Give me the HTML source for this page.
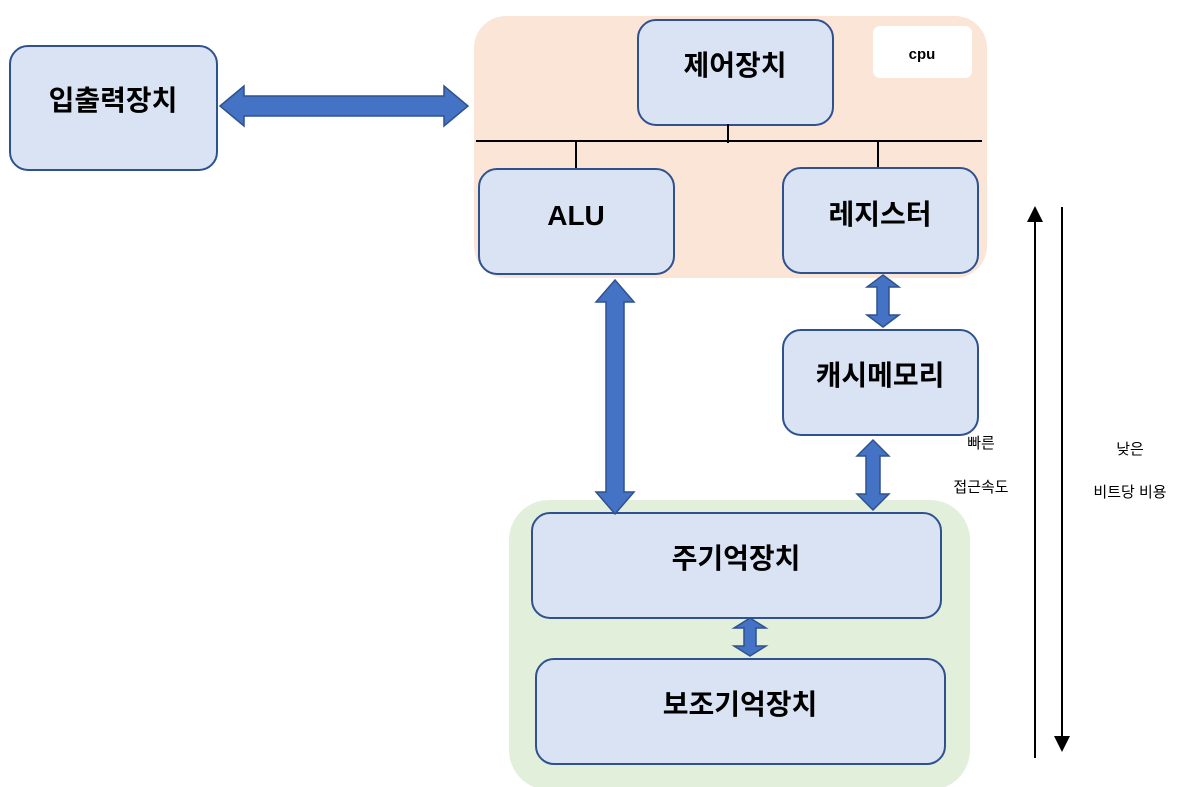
<!DOCTYPE html>
<html><head><meta charset="utf-8"><style>
html,body{margin:0;padding:0;background:#fff;}
svg{display:block;}
text{font-family:"Liberation Sans","Noto Sans CJK KR",sans-serif;}
.b{fill:#dae3f3;stroke:#2f528f;stroke-width:2;}
.t{font-size:28px;font-weight:bold;text-anchor:middle;fill:#000;}
.a{fill:#4472c4;stroke:#2f528f;stroke-width:1.5;}
.s{font-size:15px;text-anchor:middle;fill:#000;}
</style></head><body>
<svg width="1192" height="787" viewBox="0 0 1192 787">
<defs><marker id="m" markerWidth="8" markerHeight="8" refX="4" refY="4" orient="auto"><path d="M0,0 L8,4 L0,8Z" fill="#000"/></marker></defs>
<rect x="474" y="16" width="513" height="262" rx="32" fill="#fbe5d6"/>
<rect x="509" y="500" width="461" height="290" rx="40" fill="#e2efda"/>
<rect x="873" y="26" width="99" height="52" rx="7" fill="#fff"/>
<text x="922" y="59" font-size="15" font-weight="bold" text-anchor="middle">cpu</text>
<rect class="b" x="10" y="46" width="207" height="124" rx="18"/>
<text class="t" x="113" y="110">입출력장치</text>
<rect class="b" x="638" y="20" width="195" height="105" rx="18"/>
<text class="t" x="735" y="75">제어장치</text>
<line x1="476" y1="141" x2="982" y2="141" stroke="#000" stroke-width="2"/>
<line x1="576" y1="140" x2="576" y2="169" stroke="#000" stroke-width="2"/>
<line x1="728" y1="124" x2="728" y2="143" stroke="#000" stroke-width="2"/>
<line x1="878" y1="140" x2="878" y2="171" stroke="#000" stroke-width="2"/>
<rect class="b" x="479" y="169" width="195" height="105" rx="18"/>
<text class="t" x="576" y="225">ALU</text>
<rect class="b" x="783" y="168" width="195" height="105" rx="18"/>
<text class="t" x="880" y="224">레지스터</text>
<rect class="b" x="783" y="330" width="195" height="105" rx="18"/>
<text class="t" x="880" y="385">캐시메모리</text>
<rect class="b" x="532" y="513" width="409" height="105" rx="18"/>
<text class="t" x="736" y="568">주기억장치</text>
<rect class="b" x="536" y="659" width="409" height="105" rx="18"/>
<text class="t" x="740" y="714">보조기억장치</text>
<path class="a" d="M220 106 L244 86 L244 96 L444 96 L444 86 L468 106 L444 126 L444 116 L244 116 L244 126Z"/>
<path class="a" d="M615 280 L634 302 L624 302 L624 492 L634 492 L615 514 L596 492 L606 492 L606 302 L596 302Z"/>
<path class="a" d="M883 275 L899 287 L889 287 L889 315 L899 315 L883 327 L867 315 L877 315 L877 287 L867 287Z"/>
<path class="a" d="M873 440 L889 456 L880 456 L880 494 L889 494 L873 510 L857 494 L866 494 L866 456 L857 456Z"/>
<path class="a" d="M750 618 L766 628 L756 628 L756 646 L766 646 L750 656 L734 646 L744 646 L744 628 L734 628Z"/>
<line x1="1035" y1="758" x2="1035" y2="214" stroke="#000" stroke-width="2" marker-end="url(#m)"/>
<line x1="1062" y1="207" x2="1062" y2="744" stroke="#000" stroke-width="2" marker-end="url(#m)"/>
<text class="s" x="981" y="448">빠른</text>
<text class="s" x="981" y="492">접근속도</text>
<text class="s" x="1130" y="454">낮은</text>
<text class="s" x="1130" y="497">비트당 비용</text>
</svg>
</body></html>
